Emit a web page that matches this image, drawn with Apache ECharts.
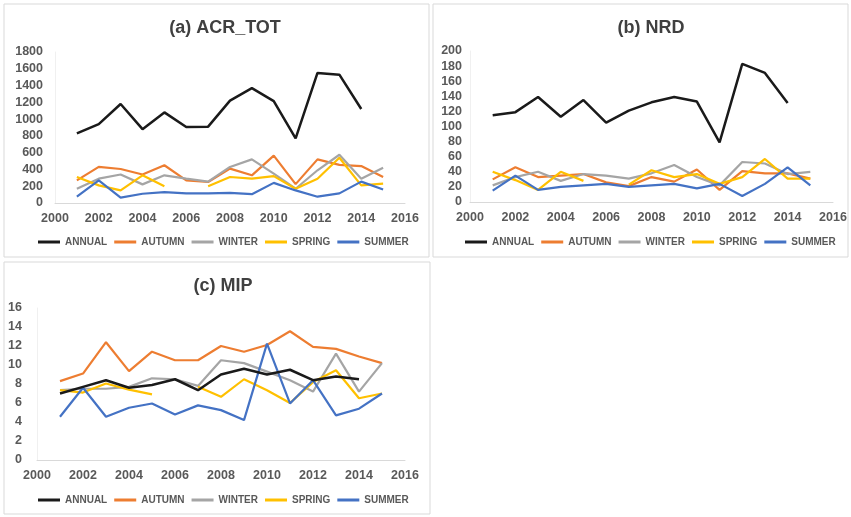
<!DOCTYPE html>
<html>
<head>
<meta charset="utf-8">
<script src="https://cdn.jsdelivr.net/npm/echarts@6/dist/echarts.min.js"></script>
<style>
  html, body { margin: 0; padding: 0; background: #fff; }
  #chart { width: 851px; height: 517px; }
</style>
</head>
<body>
<div id="chart"></div>
<script>
// Years 2001-2015
const years = [2001, 2002, 2003, 2004, 2005, 2006, 2007, 2008, 2009, 2010, 2011, 2012, 2013, 2014, 2015];
const seasons = ['ANNUAL', 'AUTUMN', 'WINTER', 'SPRING', 'SUMMER'];
const seasonColors = ['#1a1a1a', '#ED7D31', '#A5A5A5', '#FFC000', '#4472C4'];

// (a) ACR_TOT
const acrAnnual = [830, 940, 1180, 880, 1080, 905, 910, 1220, 1370, 1215, 770, 1550, 1530, 1120, null];
const acrAutumn = [270, 430, 405, 340, 450, 270, 250, 410, 330, 565, 225, 520, 455, 440, 310];
const acrWinter = [170, 290, 340, 222, 330, 290, 255, 430, 520, 350, 170, 390, 575, 290, 420];
const acrSpring = [310, 210, 150, 330, 200, null, 200, 310, 290, 320, 170, 290, 540, 210, 230];
const acrSummer = [75, 270, 65, 110, 130, 115, 115, 120, 105, 240, 150, 75, 115, 255, 160];

// (b) NRD
const nrdAnnual = [115, 119, 139, 113, 135, 105, 121, 132, 139, 133, 79, 183, 171, 131, null];
const nrdAutumn = [30, 46, 33, 35, 37, 26, 21, 33, 27, 43, 16, 41, 38, 38, 31];
const nrdWinter = [22, 33, 40, 28, 37, 35, 31, 38, 49, 33, 22, 53, 51, 37, 40];
const nrdSpring = [40, 29, 16, 40, 28, null, 23, 42, 33, 37, 24, 33, 57, 31, 31];
const nrdSummer = [15, 35, 16, 20, 22, 24, 20, 22, 24, 18, 24, 8, 24, 46, 22];

// (c) MIP
const mipAnnual = [7.0, 7.7, 8.4, 7.6, 7.9, 8.5, 7.35, 9.0, 9.6, 9.0, 9.5, 8.4, 8.8, 8.5, null];
const mipAutumn = [8.3, 9.1, 12.4, 9.35, 11.4, 10.5, 10.5, 12.0, 11.4, 12.1, 13.55, 11.9, 11.7, 10.9, 10.2];
const mipWinter = [7.35, 7.5, 7.5, 7.7, 8.6, 8.5, 7.8, 10.5, 10.2, 9.3, 8.4, 7.2, 11.2, 7.2, 10.2];
const mipSpring = [7.35, 7.1, 8.05, 7.4, 6.9, null, 7.7, 6.65, 8.5, 7.35, 6.0, 8.2, 9.45, 6.5, 7.0];
const mipSummer = [4.55, 7.6, 4.55, 5.5, 5.95, 4.8, 5.75, 5.25, 4.2, 12.25, 5.95, 8.4, 4.7, 5.4, 7.0];

const panels = [
  { title: '(a) ACR_TOT', data: [acrAnnual, acrAutumn, acrWinter, acrSpring, acrSummer], yMax: 1800, yStep: 200 },
  { title: '(b) NRD', data: [nrdAnnual, nrdAutumn, nrdWinter, nrdSpring, nrdSummer], yMax: 200, yStep: 20 },
  { title: '(c) MIP', data: [mipAnnual, mipAutumn, mipWinter, mipSpring, mipSummer], yMax: 16, yStep: 2 }
];

// Layout of the three panels
const layout = [
  { grid: { left: 55, right: 446, top: 52, bottom: 314 }, titleX: 220, titleY: 14, legendX: 33, legendY: 232, yMargin: 12, box: [4, 4, 425, 253] },
  { grid: { left: 470, right: 18, top: 51, bottom: 315 }, titleX: 646, titleY: 14, legendX: 460, legendY: 232, yMargin: 8, box: [433, 4, 415, 253] },
  { grid: { left: 37, right: 446, top: 308, bottom: 57 }, titleX: 218, titleY: 272, legendX: 33, legendY: 490, yMargin: 15, box: [4, 262, 426, 252] }
];

const FONT = 'Liberation Sans, Arial, sans-serif';
const labelStyle = { color: '#595959', fontWeight: 'bold', fontSize: 12.5, fontFamily: FONT };

const option = {
  backgroundColor: '#fff',
  animation: false,
  title: [], grid: [], xAxis: [], yAxis: [], legend: [], series: [],
  graphic: []
};

panels.forEach((p, i) => {
  const L = layout[i];
  option.graphic.push({
    type: 'rect', silent: true, z: -1,
    shape: { x: L.box[0], y: L.box[1], width: L.box[2], height: L.box[3] },
    style: { fill: '#fff', stroke: '#d9d9d9', lineWidth: 1 }
  });
  option.title.push({
    text: p.title, left: L.titleX, top: L.titleY, textAlign: 'center',
    textStyle: { color: '#404040', fontWeight: 900, fontSize: 18, fontFamily: FONT }
  });
  option.grid.push(Object.assign({ containLabel: false }, L.grid));
  option.xAxis.push({
    type: 'value', gridIndex: i, min: 2000, max: 2016, interval: 2,
    axisLine: { show: true, lineStyle: { color: '#d9d9d9', width: 1 } },
    axisTick: { show: false },
    splitLine: { show: false },
    axisLabel: Object.assign({ margin: 9, formatter: v => String(v) }, labelStyle)
  });
  option.yAxis.push({
    type: 'value', gridIndex: i, min: 0, max: p.yMax, interval: p.yStep,
    axisLine: { show: true, lineStyle: { color: '#f0f0f0', width: 1 } },
    axisTick: { show: false },
    splitLine: { show: false },
    axisLabel: Object.assign({ margin: L.yMargin, formatter: v => String(v) }, labelStyle)
  });
  option.legend.push({
    left: L.legendX, top: L.legendY, itemWidth: 22, itemHeight: 3, itemGap: 7,
    icon: 'rect', width: 420,
    data: seasons.map(s => ({ name: s })),
    textStyle: { color: '#595959', fontWeight: 'bold', fontSize: 10, fontFamily: FONT }
  });
  seasons.forEach((s, k) => {
    option.series.push({
      name: s, type: 'line', xAxisIndex: i, yAxisIndex: i,
      showSymbol: false, symbol: 'none',
      data: years.map((y, j) => [y, p.data[k][j]]),
      lineStyle: { color: seasonColors[k], width: k === 0 ? 2.5 : 2.2 },
      itemStyle: { color: seasonColors[k] },
      z: k === 0 ? 3 : 2
    });
  });
});

const chart = echarts.init(document.getElementById('chart'), null, { renderer: 'canvas' });
chart.setOption(option);
</script>
</body>
</html>
